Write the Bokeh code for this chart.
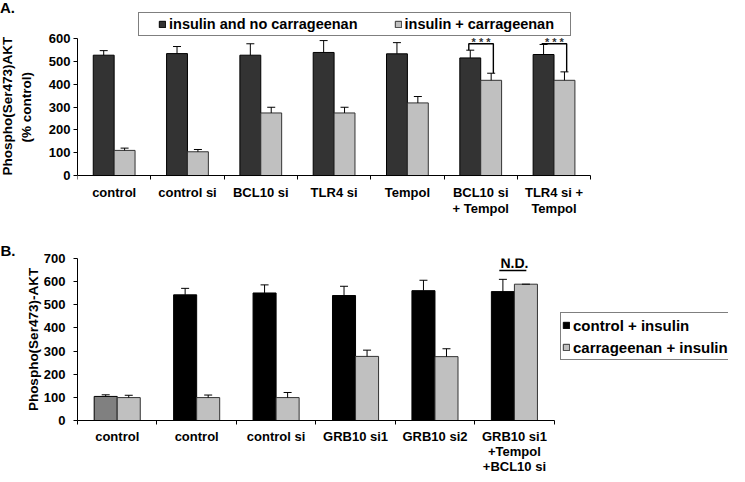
import numpy as np
from bokeh.plotting import figure
from bokeh.models import (ColumnDataSource, FixedTicker, Legend, LegendItem, Whisker,
                          TeeHead, Label, Range1d, Div, Title)
from bokeh.layouts import column
from bokeh.embed import file_html
from bokeh.resources import INLINE
from bokeh.core.properties import value

FONT = "Liberation Sans"

# ---------------- Panel A data ----------------
a_categories = ["control", "control si", "BCL10 si", "TLR4 si", "Tempol",
                "BCL10 si\n+ Tempol", "TLR4 si +\nTempol"]
a_no_carr = [527, 534, 527, 539, 533, 515, 530]
a_no_carr_err = [20, 31, 50, 52, 49, 34, 44]
a_carr = [110, 104, 274, 274, 318, 417, 417]
a_carr_err = [10, 10, 25, 25, 28, 31, 37]
a_yticks = [0, 100, 200, 300, 400, 500, 600]
a_sig_groups = [5, 6]
a_sig_text = "* * *"
a_series = ["insulin and no carrageenan", "insulin + carrageenan"]
a_ylabel = ["Phospho(Ser473)AKT", "(% control)"]

# ---------------- Panel B data ----------------
b_categories = ["control", "control", "control si", "GRB10 si1", "GRB10 si2",
                "GRB10 si1\n+Tempol\n+BCL10 si"]
b_ctrl_ins = [104, 543, 551, 540, 561, 557]
b_ctrl_ins_err = [7, 28, 35, 40, 45, 53]
b_carr_ins = [99, 99, 99, 277, 276, 589]
b_carr_ins_err = [10, 11, 22, 27, 34, 0]
b_yticks = [0, 100, 200, 300, 400, 500, 600, 700]
b_series = ["control + insulin", "carrageenan + insulin"]
b_nd_group = 5
b_nd_text = "N.D."

# styles
DARK_A = "#333333"
LIGHT = "#c0c0c0"
b_dark_colors = ["#808080", "#000000", "#000000", "#000000", "#000000", "#000000"]


def base_style(p):
    p.xgrid.visible = False
    p.ygrid.visible = False
    p.outline_line_color = None
    p.border_fill_color = None
    p.background_fill_color = None


def style_y(ay, yticks, ymax, standoff):
    ay.ticker = FixedTicker(ticks=yticks)
    ay.bounds = (0, ymax)
    ay.major_tick_out = 4
    ay.major_tick_in = 0
    ay.major_tick_line_color = "black"
    ay.minor_tick_line_color = None
    ay.major_label_standoff = standoff
    ay.axis_line_color = "black"
    ay.major_label_text_font = FONT
    ay.major_label_text_font_style = "bold"
    ay.major_label_text_font_size = "13px"
    ay.major_label_text_color = "black"


def add_whiskers(p, src):
    for lo, hi, xcol in (("d", "de", "xd"), ("l", "le", "xl")):
        p.add_layout(Whisker(base=xcol, lower=lo, upper=hi, source=src,
                             line_color="black", line_width=1, level="overlay",
                             upper_head=TeeHead(size=8, line_color="black", line_width=1),
                             lower_head=None))


# ======================= Panel A =======================
na = len(a_categories)
bw_a = 0.285
# frame covers page y 10..218 (0..600 sits at 173..36) and x up to the right edge
pa = figure(width=729, height=212, x_range=Range1d(0, 8.88), y_range=Range1d(-197, 714),
            output_backend="svg", toolbar_location=None,
            min_border_left=71, min_border_right=1, min_border_top=2, min_border_bottom=2)
base_style(pa)
centers_a = np.arange(na) + 0.5
src_a = ColumnDataSource(dict(
    xd=centers_a - bw_a / 2, xl=centers_a + bw_a / 2,
    d=a_no_carr, de=[v + e for v, e in zip(a_no_carr, a_no_carr_err)],
    l=a_carr, le=[v + e for v, e in zip(a_carr, a_carr_err)],
))
rda = pa.vbar(x="xd", top="d", bottom=0, width=bw_a, source=src_a, fill_color=DARK_A,
              line_color="black", line_width=1)
rla = pa.vbar(x="xl", top="l", bottom=0, width=bw_a, source=src_a, fill_color=LIGHT,
              line_color="#333333", line_width=1)
add_whiskers(pa, src_a)

# significance brackets
dark_tops = [a_no_carr[g] + a_no_carr_err[g] for g in a_sig_groups]
bracket_y = max(dark_tops) + 3
bx, by = [], []
for g in a_sig_groups:
    xd = centers_a[g] - bw_a / 2
    xl = centers_a[g] + bw_a / 2
    bx.append([xd - 0.02, xd - 0.02, xl + 0.03, xl + 0.03])
    by.append([a_no_carr[g] + a_no_carr_err[g], bracket_y, bracket_y, a_carr[g] + a_carr_err[g]])
pa.multi_line(xs=bx, ys=by, line_color="black", line_width=1.4)
pa.text(x=[(b[0] + b[2]) / 2 for b in bx], y=[bracket_y + 8] * len(bx),
        text=[a_sig_text] * len(bx), text_align="center", text_baseline="alphabetic",
        text_font=value(FONT), text_font_style="bold", text_font_size="11px",
        text_color="#333333")

# x axis at y=0 with boundary ticks; category names drawn under it
ax = pa.xaxis[0]
ax.fixed_location = 0
ax.bounds = (0, na)
ax.ticker = FixedTicker(ticks=[], minor_ticks=list(range(na + 1)))
ax.major_tick_out = 0
ax.major_tick_in = 0
ax.minor_tick_out = 4
ax.minor_tick_in = 0
ax.minor_tick_line_color = "black"
ax.axis_line_color = "black"
ax.major_label_text_font_size = "0px"
ax.major_label_standoff = 0
A_LABEL_Y = -40
pa.text(x=centers_a, y=[A_LABEL_Y] * na, text=a_categories, text_align="center",
        text_baseline="top", text_font=value(FONT), text_font_style="bold",
        text_font_size="13px", text_line_height=1.12, text_color="black")

style_y(pa.yaxis[0], a_yticks, 600, 3)
pa.yaxis[0].axis_label = None
# y-axis title: two rotated lines in the left panel, placed from the frame bottom
t2 = Title(text=a_ylabel[1], align="left", offset=78, standoff=19, vertical_align="top",
           text_font=FONT, text_font_style="bold", text_font_size="13.5px", text_color="black")
t1 = Title(text=a_ylabel[0], align="left", offset=45, standoff=-10, vertical_align="bottom",
           text_font=FONT, text_font_style="bold", text_font_size="13.5px", text_color="black")
pa.add_layout(t2, "left")
pa.add_layout(t1, "left")

leg_a = Legend(items=[LegendItem(label=a_series[0], renderers=[rda]),
                      LegendItem(label=a_series[1], renderers=[rla])],
               orientation="horizontal", location=(61, 184), padding=3, margin=0,
               spacing=36, label_height=16, label_width=162, glyph_height=8, glyph_width=8,
               label_standoff=3, title=" ", title_location="left", title_standoff=-3,
               title_text_font_size="14px",
               border_line_color="black", border_line_width=1,
               background_fill_color="white", background_fill_alpha=1,
               label_text_font=FONT, label_text_font_style="bold",
               label_text_font_size="14.5px", label_text_color="black")
pa.add_layout(leg_a)

div_a = Div(text="A.", width=30, height=0,
            styles={"overflow": "visible", "position": "relative", "z-index": "5",
                    "top": "-5px", "left": "-5px", "font-family": FONT,
                    "font-weight": "bold", "font-size": "15px", "line-height": "16px",
                    "color": "black"})

# ======================= Panel B =======================
nb = len(b_categories)
bw_b = 0.29
# x 0..6 at page 85.3..561.7; frame extended right to hold the legend
pb = figure(width=729, height=254, x_range=Range1d(0, 8.195), y_range=Range1d(0, 700),
            output_backend="svg", toolbar_location=None, title="B.",
            min_border_left=77, min_border_right=1, min_border_top=36, min_border_bottom=54)
base_style(pb)
centers_b = np.arange(nb) + 0.5
src_b = ColumnDataSource(dict(
    xd=centers_b - bw_b / 2, xl=centers_b + bw_b / 2,
    d=b_ctrl_ins, de=[v + e for v, e in zip(b_ctrl_ins, b_ctrl_ins_err)],
    l=b_carr_ins, le=[v + e for v, e in zip(b_carr_ins, b_carr_ins_err)],
    c=b_dark_colors,
))
rdb = pb.vbar(x="xd", top="d", bottom=0, width=bw_b, source=src_b,
              fill_color="c", line_color="black", line_width=1)
rlb = pb.vbar(x="xl", top="l", bottom=0, width=bw_b, source=src_b, fill_color=LIGHT,
              line_color="#333333", line_width=1)
add_whiskers(pb, src_b)

bx_axis = pb.xaxis[0]
bx_axis.bounds = (0, nb)
bx_axis.ticker = FixedTicker(ticks=[i + 0.5 for i in range(nb)], minor_ticks=list(range(nb + 1)))
bx_axis.major_label_overrides = {i + 0.5: lab for i, lab in enumerate(b_categories)}
bx_axis.major_tick_line_color = None
bx_axis.major_tick_out = 0
bx_axis.major_tick_in = 0
bx_axis.minor_tick_out = 4
bx_axis.minor_tick_in = 0
bx_axis.minor_tick_line_color = "black"
bx_axis.axis_line_color = "black"
bx_axis.major_label_standoff = 4
bx_axis.major_label_text_line_height = 1.0
bx_axis.axis_label = None
bx_axis.major_label_text_font = FONT
bx_axis.major_label_text_font_style = "bold"
bx_axis.major_label_text_font_size = "13px"
bx_axis.major_label_text_color = "black"

ay_b = pb.yaxis[0]
style_y(ay_b, b_yticks, 700, 8)
ay_b.axis_label = "Phospho(Ser473)-AKT"
ay_b.axis_label_standoff = 0
ay_b.axis_label_text_font = FONT
ay_b.axis_label_text_font_style = "bold"
ay_b.axis_label_text_font_size = "13.5px"
ay_b.axis_label_text_color = "black"

pb.title.align = "left"
pb.title.offset = -77
pb.title.standoff = 0
pb.title.text_font = FONT
pb.title.text_font_style = "bold"
pb.title.text_font_size = "15px"
pb.title.text_color = "black"

nd_y = max(b_ctrl_ins[b_nd_group] + b_ctrl_ins_err[b_nd_group],
           b_carr_ins[b_nd_group] + b_carr_ins_err[b_nd_group]) + 70
pb.add_layout(Label(x=centers_b[b_nd_group], y=nd_y, text=b_nd_text, text_align="center",
                    text_baseline="middle", text_font=FONT, text_font_style="bold",
                    text_font_size="14px", text_color="black"))
pb.segment(x0=[centers_b[b_nd_group] - 0.19], x1=[centers_b[b_nd_group] + 0.15],
           y0=[nd_y - 32], y1=[nd_y - 32], line_color="black", line_width=1.5)

leg_b = Legend(items=[LegendItem(label=b_series[0], renderers=[rdb], index=1),
                      LegendItem(label=b_series[1], renderers=[rlb])],
               orientation="vertical", location=(483, 60), padding=1, margin=0,
               spacing=0, label_height=22, glyph_height=8, glyph_width=8,
               label_standoff=3, border_line_color="black", border_line_width=1,
               background_fill_color="white", background_fill_alpha=1,
               label_text_font=FONT, label_text_font_style="bold",
               label_text_font_size="15px", label_text_color="black")
pb.add_layout(leg_b)

layout = column(div_a, pa, pb, spacing=0)
open("out.html", "w").write(file_html(layout, INLINE))
